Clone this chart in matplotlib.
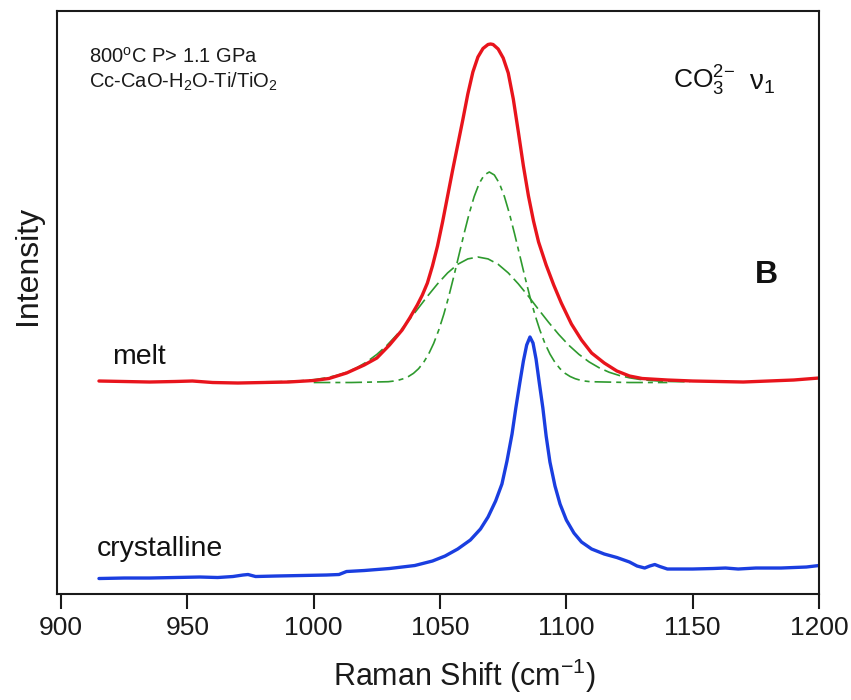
import matplotlib
matplotlib.use("Agg")
import matplotlib.pyplot as plt

plt.rcParams['font.family'] = ['Liberation Sans', 'DejaVu Sans']
plt.rcParams['mathtext.fontset'] = 'custom'
plt.rcParams['mathtext.rm'] = 'Liberation Sans'
plt.rcParams['mathtext.it'] = 'Liberation Sans:italic'
plt.rcParams['mathtext.bf'] = 'Liberation Sans:bold'

# melt spectrum (Raman shift in cm-1, intensity in arbitrary units)
melt_x = [915, 925, 935, 945, 952, 960, 970, 980, 990, 1000, 1006, 1013, 1020,
          1025, 1030, 1035, 1038, 1041, 1043, 1045, 1047, 1049, 1051, 1053,
          1055, 1057, 1059, 1061, 1063, 1065, 1067, 1069, 1070, 1071, 1073,
          1075, 1077, 1079, 1081, 1083, 1085, 1087, 1089, 1092, 1095, 1098,
          1102, 1106, 1110, 1115, 1120, 1125, 1130, 1140, 1150, 1160, 1170,
          1180, 1190, 1200]
melt_y = [213, 212.5, 212, 212.5, 213, 211.5, 211, 211.5, 212, 213.5, 215.5,
          221, 229, 236, 249, 264, 276, 289, 299, 311, 328, 348, 372, 398,
          424, 449, 474, 500, 522, 537, 545.5, 549.5, 550, 549.5, 545, 536,
          521, 495, 462, 428, 398, 373, 352, 329, 309, 291, 270, 254, 241,
          231, 223, 218, 215.5, 214, 213, 212.5, 212, 213, 214, 216]

# crystalline spectrum
cryst_x = [915, 925, 935, 945, 955, 962, 968, 972, 974, 977, 985, 995, 1005,
           1010, 1013, 1020, 1030, 1040, 1047, 1052, 1057, 1062, 1066, 1069,
           1072, 1074.5, 1076.5, 1078.5, 1080, 1081.5, 1083, 1084.3, 1085.6,
           1086.8, 1088, 1089.3, 1090.7, 1092, 1093.5, 1095.5, 1097.5, 1100,
           1103, 1106, 1110, 1115, 1120, 1125, 1128, 1131, 1133, 1135, 1137,
           1140, 1150, 1158, 1163, 1168, 1175, 1185, 1195, 1200]
cryst_y = [15.5, 16, 16, 16.5, 17, 16.5, 17.5, 19, 19.5, 17.5, 18, 18.5, 19,
           19.5, 22.5, 23.5, 25.5, 28.5, 33, 38, 45, 54, 65, 77, 93, 110, 133,
           160, 186, 210, 233, 249, 257, 251, 235, 211, 186, 158, 132, 108,
           90, 74, 61, 52, 45, 40, 36.5, 32, 28, 26, 28, 29.5, 27.5, 25, 25,
           25.5, 26, 25, 26, 26, 27, 28.5]

# fitted band components of the melt spectrum
narrow_x = [1000, 1015, 1029.5, 1031.5, 1033.5, 1035.5, 1037.5, 1039.5, 1041.5,
            1043.5, 1045.5, 1047.5, 1049.5, 1051.5, 1053.5, 1055.5, 1057.5,
            1059.5, 1061.5, 1063.5, 1065.5, 1067.5, 1069.5, 1071.5, 1073.5,
            1075.5, 1077.5, 1079.5, 1081.5, 1083.5, 1085.5, 1087.5, 1089.5,
            1091.5, 1093.5, 1095.5, 1097.5, 1099.5, 1101.5, 1103.5, 1105.5,
            1107.5, 1109.5, 1125, 1140]
narrow_y = [211.5, 211.5, 212.3, 212.9, 213.8, 215.3, 217.5, 220.7, 225.3,
            231.6, 240.0, 250.7, 264.0, 279.8, 298.0, 318.1, 339.2, 360.2,
            380.1, 397.3, 410.6, 419.0, 422.0, 419.0, 410.6, 397.3, 380.1,
            360.2, 339.2, 318.1, 298.0, 279.8, 264.0, 250.7, 240.0, 231.6,
            225.3, 220.7, 217.5, 215.3, 213.8, 212.9, 212.3, 211.5, 211.5]

broad_x = [981, 985, 989, 993, 997, 1001, 1005, 1009, 1013, 1017, 1021, 1025,
           1029, 1033, 1037, 1041, 1045, 1049, 1053, 1057, 1061, 1065, 1069,
           1073, 1077, 1081, 1085, 1089, 1093, 1097, 1101, 1105, 1109, 1113,
           1117, 1121, 1125, 1129, 1133, 1137, 1141, 1145, 1149]
broad_y = [212.2, 212.3, 212.5, 212.9, 213.6, 214.6, 216.2, 218.5, 221.7,
           226.2, 232.1, 239.6, 248.7, 259.5, 271.6, 284.5, 297.7, 310.1,
           321.1, 329.7, 335.1, 337.0, 335.1, 329.7, 321.1, 310.1, 297.7,
           284.5, 271.6, 259.5, 248.7, 239.6, 232.1, 226.2, 221.7, 218.5,
           216.2, 214.6, 213.6, 212.9, 212.5, 212.3, 212.2]

fig = plt.figure(figsize=(8.51, 7.0), dpi=100)
ax = fig.add_axes([0.067, 0.1514, 0.8954, 0.8329])

green = '#2e9a2e'
ax.plot(broad_x, broad_y, color=green, lw=1.2, dashes=(10, 3))
ax.plot(narrow_x, narrow_y, color=green, lw=1.2, dashes=(10, 3, 3, 3))
ax.plot(melt_x, melt_y, color='#e8141c', lw=2.4, solid_capstyle='round')
ax.plot(cryst_x, cryst_y, color='#1a3ee0', lw=2.4, solid_capstyle='round')

ax.set_xlim(898.4, 1200)
ax.set_ylim(0, 583)
ax.set_xticks([900, 950, 1000, 1050, 1100, 1150, 1200])
ax.set_yticks([])
ax.tick_params(axis='x', direction='out', length=11, width=1.5,
               labelsize=19, pad=5, colors='#1a1a1a')
for s in ax.spines.values():
    s.set_linewidth(1.5)
    s.set_color('#1a1a1a')

ax.set_xlabel('Raman Shift (cm$^{-1}$)', fontsize=22, color='#1a1a1a')
ax.xaxis.set_label_coords(0.535, -0.108)
fig.text(28 / 851, 1 - 265 / 700, 'Intensity', rotation=90, fontsize=23,
         color='#1a1a1a', ha='center', va='center')

fig.text(89 / 851, 1 - 63 / 700, r'800$^{\mathrm{o}}$C P> 1.1 GPa',
         fontsize=14.5, color='#1a1a1a')
fig.text(89 / 851, 1 - 88 / 700, r'Cc-CaO-H$_2$O-Ti/TiO$_2$',
         fontsize=14.5, color='#1a1a1a')
fig.text(673 / 851, 1 - 89 / 700, r'CO$_3^{2\mathrm{-}}$', fontsize=19,
         color='#111111')
fig.text(749 / 851, 1 - 89 / 700, r'ν$_1$', fontsize=20, color='#111111')
fig.text(755 / 851, 1 - 283 / 700, 'B', fontsize=23, fontweight='bold',
         color='#111111')
fig.text(112 / 851, 1 - 364 / 700, 'melt', fontsize=20.5, color='#111111')
fig.text(97 / 851, 1 - 556 / 700, 'crystalline', fontsize=20.5, color='#111111')

fig.savefig('out.png', dpi=100)
